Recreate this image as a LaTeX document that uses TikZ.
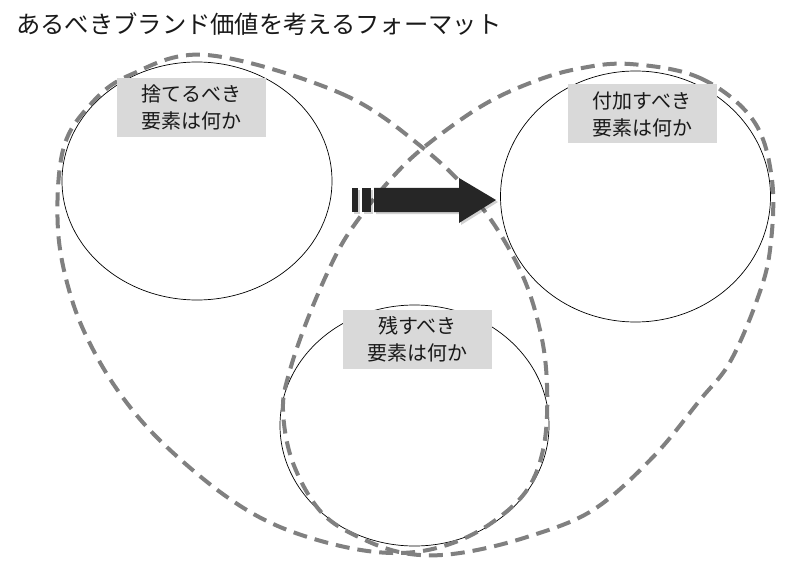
\documentclass[tikz,border=0pt]{standalone}
\usepackage{fontspec}
\setmainfont{Noto Sans CJK JP}
\usetikzlibrary{shapes.geometric}
\definecolor{dashgray}{HTML}{808080}
\definecolor{boxgray}{HTML}{D9D9D9}
\definecolor{arrowdark}{HTML}{262626}
\tikzset{
  circ/.style={draw=black, line width=0.7pt, ellipse, inner sep=0pt, outer sep=0pt},
  loopline/.style={draw=dashgray, line width=4pt, dash pattern=on 14pt off 8pt},
  labelbox/.style={fill=boxgray, inner sep=0pt, minimum width=149pt, minimum height=59pt,
    align=center, font=\fontsize{20pt}{27pt}\selectfont, text=black!90},
  arrowfill/.style={fill=arrowdark, draw=none},
}
\begin{document}
\begin{tikzpicture}[x=1pt,y=-1pt]
\useasboundingbox (0,0) rectangle (800,572);
\fill[white] (0,0) rectangle (800,572);
% title
\node[anchor=west, inner sep=0pt, font=\fontsize{24.3pt}{24.3pt}\selectfont, text=black!90] (title) at (16,24) {あるべきブランド価値を考えるフォーマット};
% ellipses
\node[circ, minimum width=270pt, minimum height=238pt] (left) at (197,181) {};
\node[circ, minimum width=270pt, minimum height=251pt] (right) at (635.5,196.5) {};
\node[circ, minimum width=269pt, minimum height=241pt] (bottom) at (414.5,425.5) {};
% loop A (left + bottom)
\draw[loopline] plot[smooth cycle, tension=0.6] coordinates {
 (207,55) (340,93) (423,148) (480,205) (520,270) (540,330) (547,385) (544,445) (527,490)
 (490,524) (447,545) (400,553) (345,547) (280,527) (227,497) (170,450) (130,407) (97,357) (72,300)
 (58,230) (63,150) (90,105) (130,75) };
% loop B (right + bottom)
\draw[loopline] plot[smooth cycle, tension=0.6] coordinates {
 (630,64) (700,78) (753,120) (772,180) (770,250) (757,300) (730,362) (700,400) (653,457)
 (593,510) (527,537) (460,553) (410,554) (365,540) (322,513) (293,463) (283,410) (290,370)
 (310,313) (337,253) (360,217) (390,180) (423,148) (480,107) (530,83) (577,69) };
% labels
\node[labelbox] (lblL) at (191.5,107.5) {捨てるべき\\要素は何か};
\node[labelbox] (lblR) at (642,114) {付加すべき\\要素は何か};
\node[labelbox] (lblB) at (417.5,339) {残すべき\\要素は何か};
% arrow shadow
\begin{scope}[shift={(2,2)}, fill=black, opacity=0.18]
 \fill (352,188) rectangle (358,212);
 \fill (362,188) rectangle (371,212);
 \fill (374,188) -- (459,188) -- (459,178) -- (496,200) -- (459,223) -- (459,212) -- (374,212) -- cycle;
\end{scope}
% arrow
\coordinate (arrS) at (352,200);
\coordinate (arrT) at (496,200);
\fill[arrowfill] (352,188) rectangle (358,212);
\fill[arrowfill] (362,188) rectangle (371,212);
\fill[arrowfill] (374,188) -- (459,188) -- (459,178) -- (arrT) -- (459,223) -- (459,212) -- (374,212) -- cycle;
\end{tikzpicture}
\end{document}
